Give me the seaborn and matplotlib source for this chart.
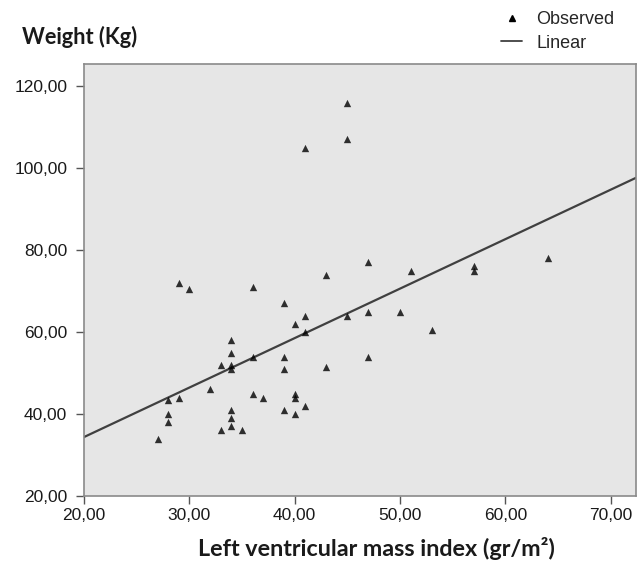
import numpy as np
import pandas as pd
import matplotlib
matplotlib.use("Agg")
import matplotlib.pyplot as plt
from matplotlib.lines import Line2D
from matplotlib.ticker import FuncFormatter
import seaborn as sns

# Data
lvmi = [45, 45, 41, 29, 30, 36, 43, 47, 51, 57, 57, 64, 39, 41, 40, 45, 41, 34, 34, 36,
        39, 33, 34, 34, 39, 43, 32, 28, 29, 36, 37, 40, 40, 41, 39, 40, 34, 34, 34, 33,
        35, 28, 28, 27, 47, 50, 53, 47]
weight = [116, 107, 105, 72, 70.4, 71, 74, 77, 75, 75, 76, 78, 67, 64, 62, 64, 60, 58, 55, 54,
          54, 52, 52, 51, 51, 51.5, 46, 43.5, 44, 45, 44, 45, 44, 42, 41, 40, 41, 39, 37, 36,
          36, 40, 38, 34, 65, 64.8, 60.5, 54]
x_ticks = [20, 30, 40, 50, 60, 70]
y_ticks = [20, 40, 60, 80, 100, 120]

df = pd.DataFrame({"lvmi": lvmi, "weight": weight})

sns.set_style("white")
plt.rcParams["font.family"] = ["Liberation Sans", "DejaVu Sans"]

W, H = 638, 572
fig = plt.figure(figsize=(W / 100, H / 100), dpi=100)
ax = fig.add_axes([84 / W, 76 / H, 552 / W, 432 / H])
ax.set_facecolor("#e6e6e6")
ax.set_xlim(20, 72.4)
ax.set_ylim(20, 125.4)

sns.regplot(data=df, x="lvmi", y="weight", ax=ax, ci=None, truncate=False,
            marker="^",
            scatter_kws=dict(color="black", s=28, linewidths=0, zorder=3),
            line_kws=dict(color="#404040", lw=1.6, zorder=2))

ax.set_xlim(20, 72.4)
ax.set_ylim(20, 125.4)
ax.set_xticks(x_ticks)
ax.set_yticks(y_ticks)
fmt = FuncFormatter(lambda v, p: f"{v:.2f}".replace(".", ","))
ax.xaxis.set_major_formatter(fmt)
ax.yaxis.set_major_formatter(fmt)
ax.tick_params(axis="both", which="major", direction="out", length=6, width=1,
               color="#555555", labelsize=12.5, labelcolor="#1a1a1a",
               bottom=True, left=True)
ax.tick_params(axis="x", pad=3)
ax.tick_params(axis="y", pad=6)
for s in ax.spines.values():
    s.set_color("#8a8a8a")
    s.set_linewidth(1.2)

ax.set_xlabel("Left ventricular mass index (gr/m²)", fontsize=16.8,
              family=["Lato", "DejaVu Sans"], fontweight="bold", color="#1a1a1a",
              va="center")
ax.xaxis.set_label_coords((376 - 84) / 552, (496 - 549) / 432)
ax.set_ylabel("")
fig.text(22 / W, 1 - 37 / H, "Weight (Kg)", fontsize=15.7, family=["Lato", "DejaVu Sans"],
         fontweight="bold", color="#1a1a1a", va="center", ha="left")

handles = [Line2D([], [], marker="^", color="black", linestyle="none", markersize=5),
           Line2D([], [], color="#404040", lw=1.3)]
fig.legend(handles, ["Observed", "Linear"], loc="upper left",
           bbox_to_anchor=(501 / W, 1 - 11 / H),
           frameon=False, fontsize=13, handlelength=1.17, handletextpad=0.78,
           labelspacing=0.37, borderpad=0, borderaxespad=0)

fig.savefig("out.png", dpi=100)
